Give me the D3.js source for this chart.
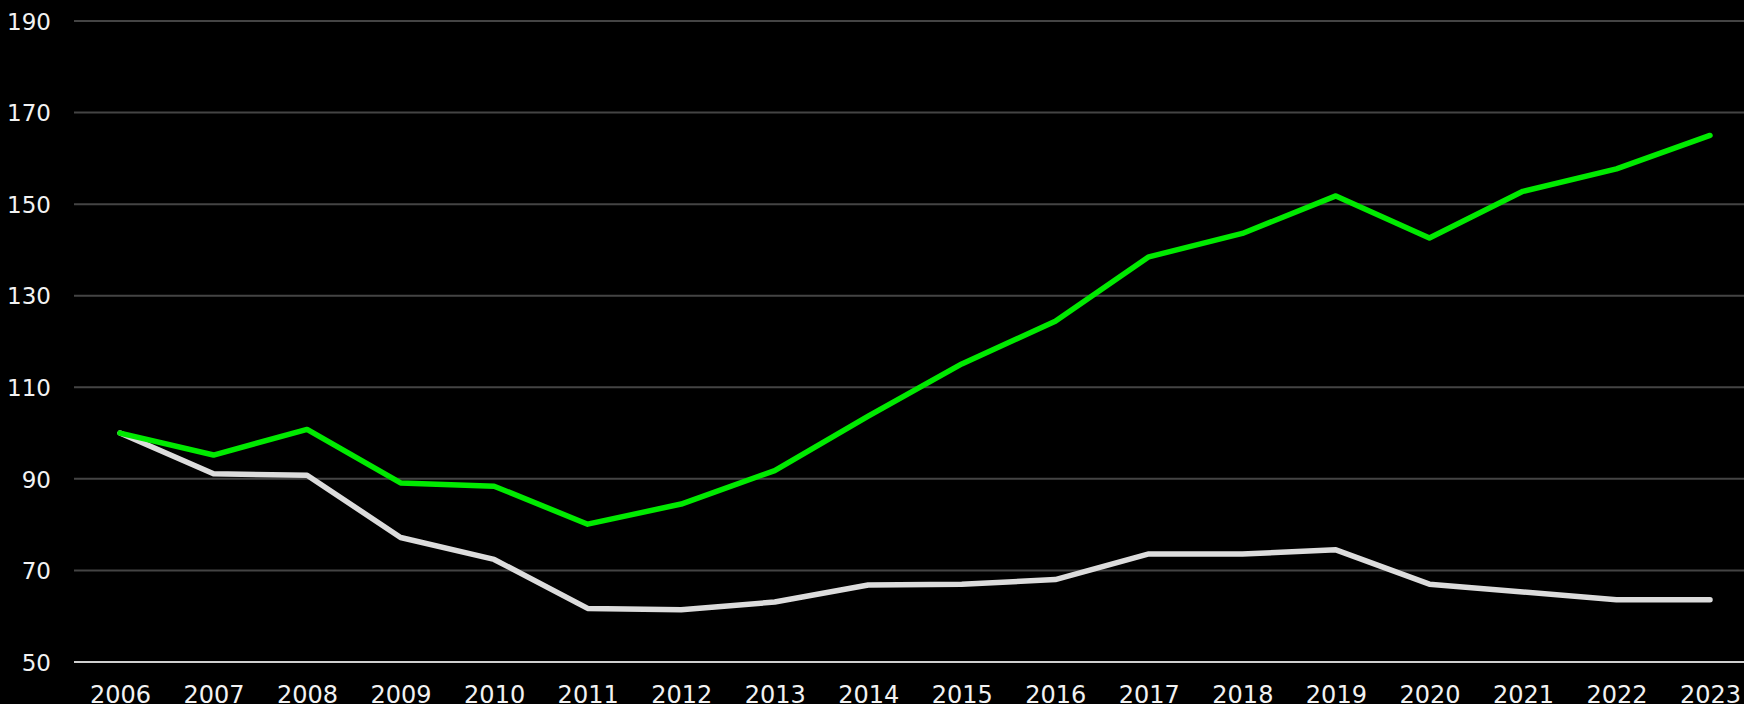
<!DOCTYPE html>
<html>
<head>
<meta charset="utf-8">
<script src="https://cdn.jsdelivr.net/npm/d3@7"></script>
<style>
  html, body { margin: 0; padding: 0; background: #000; }
  svg { display: block; }
  .tick text { font-family: "DejaVu Sans", sans-serif; fill: #f2f2f2; }
</style>
</head>
<body>
<div id="chart"></div>
<script>
var years = [2006, 2007, 2008, 2009, 2010, 2011, 2012, 2013, 2014, 2015, 2016, 2017, 2018, 2019, 2020, 2021, 2022, 2023];
var greenValues = [100, 95.2, 100.8, 89.1, 88.4, 80.1, 84.5, 91.8, 103.7, 115.1, 124.4, 138.5, 143.6, 151.8, 142.6, 152.8, 157.7, 165];
var greyValues = [100, 91.1, 90.8, 77.2, 72.4, 61.7, 61.4, 63.1, 66.8, 67.0, 68.0, 73.6, 73.6, 74.5, 67.0, 65.3, 63.6, 63.6];
var yTicks = [50, 70, 90, 110, 130, 150, 170, 190];

var width = 1744, height = 704;

var svg = d3.select("#chart").append("svg")
    .attr("width", width)
    .attr("height", height);

var x = d3.scalePoint()
    .domain(years)
    .range([120, 1710]);

var y = d3.scaleLinear()
    .domain([50, 190])
    .range([662, 21]);

// horizontal grid
svg.append("g")
  .selectAll("line")
  .data(yTicks)
  .enter().append("line")
    .attr("x1", 74)
    .attr("x2", width)
    .attr("y1", function(d) { return y(d); })
    .attr("y2", function(d) { return y(d); })
    .attr("stroke", function(d) { return d === 50 ? "#cfcfcf" : "#444"; })
    .attr("stroke-width", 2);

// y axis labels
var yAxis = svg.append("g")
    .attr("transform", "translate(51,0)")
    .call(d3.axisLeft(y).tickValues(yTicks).tickSize(0).tickPadding(0));
yAxis.select(".domain").remove();
yAxis.selectAll("text").style("font-size", "23px").attr("dy", "0.36em");

// x axis labels
var xAxis = svg.append("g")
    .attr("transform", "translate(0,680)")
    .call(d3.axisBottom(x).tickSize(0).tickPadding(0));
xAxis.select(".domain").remove();
xAxis.selectAll("text").style("font-size", "24px").attr("dy", "0.95em");

var line = d3.line()
    .x(function(d, i) { return x(years[i]); })
    .y(function(d) { return y(d); });

svg.append("path")
    .datum(greyValues)
    .attr("fill", "none")
    .attr("stroke", "#dcdcdc")
    .attr("stroke-width", 5.5)
    .attr("stroke-linecap", "round")
    .attr("stroke-linejoin", "round")
    .attr("d", line);

svg.append("path")
    .datum(greenValues)
    .attr("fill", "none")
    .attr("stroke", "#00ea00")
    .attr("stroke-width", 5.5)
    .attr("stroke-linecap", "round")
    .attr("stroke-linejoin", "round")
    .attr("d", line);
</script>
</body>
</html>
